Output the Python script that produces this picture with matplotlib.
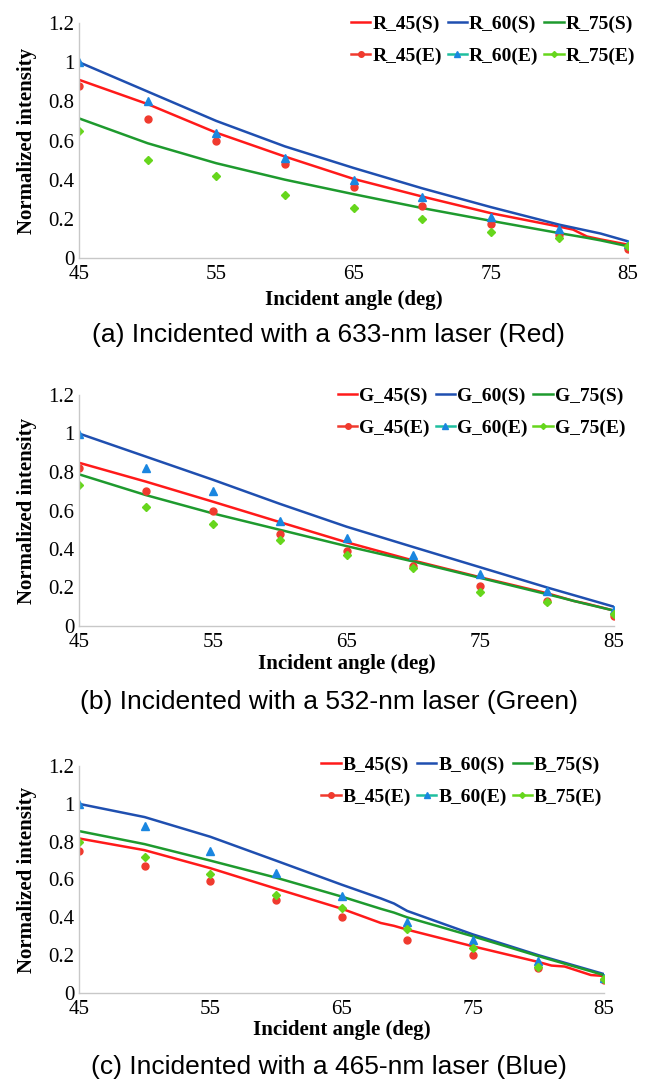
import numpy as np
import matplotlib.pyplot as plt
from matplotlib.lines import Line2D
from matplotlib.ticker import FormatStrFormatter

plt.rcParams['font.family'] = ['Liberation Serif', 'DejaVu Serif']

# incident angles for measured points
angles = [45, 50, 55, 60, 65, 70, 75, 80, 85]
# simulated curves use the same grid plus a few extra points near the kinks
angles_fine = [45, 50, 55, 60, 65, 70, 75, 80, 81, 82, 83, 85]
angles_fine_b = [45, 50, 55, 60, 65, 68, 69, 70, 75, 80, 81, 82, 84, 85]

# (a) red laser
r45_s = [0.91, 0.786, 0.64, 0.518, 0.404, 0.314, 0.229, 0.16, 0.145, 0.11, 0.095, 0.068]
r60_s = [1.0, 0.85, 0.70, 0.57, 0.46, 0.356, 0.26, 0.17, 0.155, 0.14, 0.125, 0.085]
r75_s = [0.713, 0.586, 0.484, 0.40, 0.326, 0.255, 0.19, 0.127, 0.115, 0.103, 0.09, 0.06]
r45_e = [0.88, 0.71, 0.60, 0.48, 0.365, 0.265, 0.175, 0.12, 0.045]
r60_e = [1.0, 0.80, 0.64, 0.51, 0.40, 0.31, 0.21, 0.15, 0.07]
r75_e = [0.65, 0.50, 0.42, 0.32, 0.255, 0.20, 0.135, 0.10, 0.06]

# (b) green laser
g45_s = [0.848, 0.75, 0.646, 0.54, 0.435, 0.34, 0.253, 0.17, 0.15, 0.13, 0.115, 0.08]
g60_s = [1.0, 0.88, 0.76, 0.635, 0.516, 0.41, 0.305, 0.20, 0.18, 0.16, 0.14, 0.10]
g75_s = [0.788, 0.68, 0.585, 0.50, 0.415, 0.335, 0.25, 0.165, 0.148, 0.13, 0.113, 0.08]
g45_e = [0.82, 0.70, 0.60, 0.48, 0.39, 0.31, 0.21, 0.13, 0.05]
g60_e = [1.0, 0.82, 0.70, 0.545, 0.457, 0.367, 0.27, 0.18, 0.083]
g75_e = [0.73, 0.62, 0.53, 0.447, 0.37, 0.30, 0.177, 0.127, 0.062]

# (c) blue laser
b45_s = [0.817, 0.755, 0.66, 0.552, 0.446, 0.37, 0.355, 0.335, 0.247, 0.164, 0.145, 0.14, 0.095, 0.09]
b60_s = [1.0, 0.93, 0.826, 0.70, 0.573, 0.50, 0.473, 0.434, 0.31, 0.20, 0.18, 0.16, 0.12, 0.10]
b75_s = [0.856, 0.787, 0.70, 0.61, 0.51, 0.445, 0.425, 0.40, 0.30, 0.195, 0.175, 0.155, 0.115, 0.094]
b45_e = [0.75, 0.67, 0.59, 0.49, 0.40, 0.28, 0.20, 0.13, 0.067]
b60_e = [1.0, 0.884, 0.75, 0.634, 0.515, 0.376, 0.28, 0.17, 0.08]
b75_e = [0.80, 0.72, 0.63, 0.52, 0.45, 0.34, 0.24, 0.135, 0.074]

RED = '#ff1a1a'
BLUE = '#1f4fb0'
GREEN = '#1e9a2e'
RED_E = '#f03a2e'
BLUE_E = '#1a86e0'
TEAL_E = '#1fbf9f'
GREEN_E = '#66d61c'

W, H = 657, 1087
fig = plt.figure(figsize=(W / 100, H / 100), dpi=100)

# axes boxes in pixels: (left, right, top, bottom)
boxes = [(79, 628, 23, 258), (79, 614, 395, 626), (79, 604, 766, 993)]

panels = [
    ('R', boxes[0], angles_fine, (r45_s, r60_s, r75_s), (r45_e, r60_e, r75_e),
     (647, 4), '(a) Incidented with a 633-nm laser (Red)', 300, 335),
    ('G', boxes[1], angles_fine, (g45_s, g60_s, g75_s), (g45_e, g60_e, g75_e),
     (637, 376), '(b) Incidented with a 532-nm laser (Green)', 664, 702),
    ('B', boxes[2], angles_fine_b, (b45_s, b60_s, b75_s), (b45_e, b60_e, b75_e),
     (614, 745), '(c) Incidented with a 465-nm laser (Blue)', 1030, 1067),
]

for tag, (x0, x1, y0, y1), xs, sim, exp, leg_xy, caption, xl_y, cap_y in panels:
    ax = fig.add_axes([x0 / W, 1 - y1 / H, (x1 - x0) / W, (y1 - y0) / H])
    ax.plot(xs, sim[0], color=RED, lw=1.8)
    ax.plot(xs, sim[1], color=BLUE, lw=1.8)
    ax.plot(xs, sim[2], color=GREEN, lw=1.8)
    ax.plot(angles, exp[0], 'o', color=RED_E, ms=5)
    ax.plot(angles, exp[1], '^', color=BLUE_E, ms=6)
    ax.plot(angles, exp[2], 'D', color=GREEN_E, ms=4)

    ax.set_xlim(45, 85)
    ax.set_ylim(0, 1.2)
    ax.set_xticks([45, 55, 65, 75, 85])
    ax.set_yticks([0, 0.2, 0.4, 0.6, 0.8, 1.0, 1.2])
    ax.yaxis.set_major_formatter(FormatStrFormatter('%g'))
    ax.tick_params(length=0, labelsize=15)
    ax.tick_params(axis='x', pad=5)
    ax.tick_params(axis='y', pad=3.5)
    for s in ['top', 'right']:
        ax.spines[s].set_visible(False)
    for s in ['left', 'bottom']:
        ax.spines[s].set_color('#c8c8c8')
        ax.spines[s].set_linewidth(1.0)
    ax.set_ylabel('Normalized intensity', fontsize=15, fontweight='bold', va='center')
    ax.yaxis.set_label_coords(-(x0 - 27) / (x1 - x0), 0.5)

    handles = [
        Line2D([], [], color=RED, lw=1.8),
        Line2D([], [], color=RED_E, lw=1.8, marker='o', ms=4),
        Line2D([], [], color=BLUE, lw=1.8),
        Line2D([], [], color=TEAL_E, lw=1.8, marker='^', ms=5, mfc=BLUE_E, mec=BLUE_E),
        Line2D([], [], color=GREEN, lw=1.8),
        Line2D([], [], color=GREEN_E, lw=1.8, marker='D', ms=3),
    ]
    labels = [f'{tag}_45(S)', f'{tag}_45(E)', f'{tag}_60(S)', f'{tag}_60(E)', f'{tag}_75(S)', f'{tag}_75(E)']
    fig.legend(handles, labels, loc='upper right', bbox_to_anchor=(leg_xy[0] / W, 1 - leg_xy[1] / H),
               ncol=3, frameon=False, handlelength=1.0, handletextpad=0.1, columnspacing=0.3,
               labelspacing=0.7, borderpad=0.1, prop={'size': 14, 'weight': 'bold'})

    fig.text((x0 + x1) / 2 / W, 1 - xl_y / H, 'Incident angle (deg)', ha='center', va='center',
             fontsize=15, fontweight='bold')
    fig.text(0.5, 1 - cap_y / H, caption, ha='center', va='center', fontsize=19,
             family=['Liberation Sans', 'DejaVu Sans'])

fig.savefig('out.png', dpi=100)
